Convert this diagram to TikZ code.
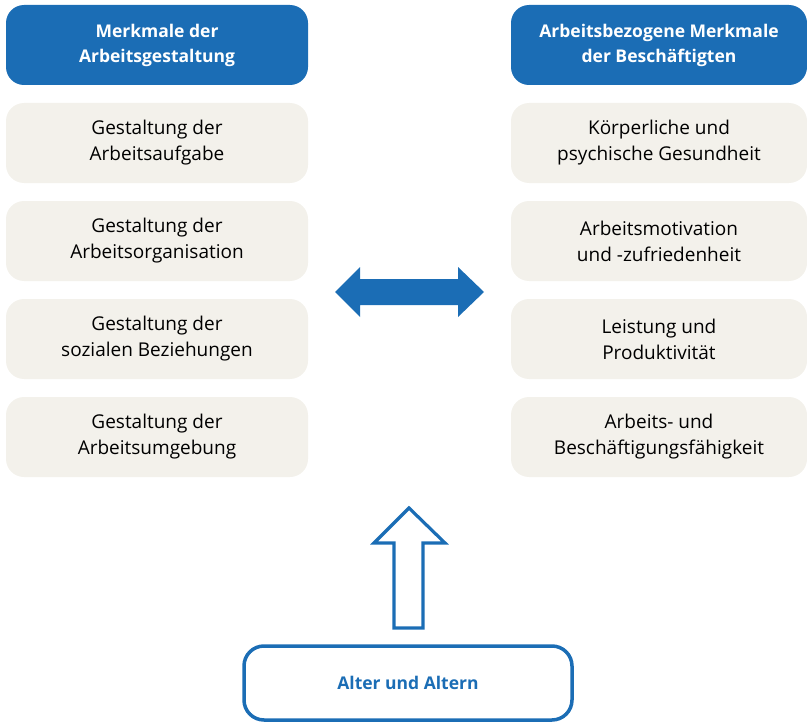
\documentclass[tikz,border=0pt]{standalone}
\usepackage{fontspec}
\setmainfont{Open Sans}
\definecolor{hdrblue}{HTML}{1B6DB5}
\definecolor{boxbeige}{HTML}{F3F1EB}
\begin{document}
\begin{tikzpicture}[x=1pt,y=-1pt,
  hdr/.style={fill=hdrblue, rounded corners=18pt, minimum height=80pt, text=white, font=\fontsize{17.5}{25}\selectfont\bfseries, align=center, inner sep=0pt},
  item/.style={fill=boxbeige, rounded corners=18pt, minimum height=80pt, text=black, font=\fontsize{19}{26}\selectfont, align=center, inner sep=0pt},
  lw/.style={minimum width=302pt},
  rw/.style={minimum width=296pt}]
\useasboundingbox (0,0) rectangle (807,725);
\node[hdr,lw] (h1) at (157,45) {Merkmale der\\Arbeitsgestaltung};
\node[hdr,rw] (h2) at (659,45) {Arbeitsbezogene Merkmale\\der Beschäftigten};
\node[item,lw] (l1) at (157,143) {Gestaltung der\\Arbeitsaufgabe};
\node[item,lw] (l2) at (157,241) {Gestaltung der\\Arbeitsorganisation};
\node[item,lw] (l3) at (157,339) {Gestaltung der\\sozialen Beziehungen};
\node[item,lw] (l4) at (157,437) {Gestaltung der\\Arbeitsumgebung};
\node[item,rw] (r1) at (659,143) {Körperliche und\\psychische Gesundheit};
\node[item,rw] (r2) at (659,241) {Arbeitsmotivation\\und -zufriedenheit};
\node[item,rw] (r3) at (659,339) {Leistung und\\Produktivität};
\node[item,rw] (r4) at (659,437) {Arbeits- und\\Beschäftigungsfähigkeit};
\node[draw=hdrblue, line width=3.5pt, rounded corners=20pt, minimum width=328pt, minimum height=74pt, text=hdrblue, font=\fontsize{17.5}{24}\selectfont\bfseries, inner sep=0pt] (age) at (408,683) {Alter und Altern};
% double arrow
\fill[hdrblue] (335,292) -- (360,267) -- (360,279) -- (458,279) -- (458,267) -- (484,292) -- (458,317) -- (458,305) -- (360,305) -- (360,317) -- cycle;
% hollow up arrow
\draw[hdrblue, line width=3.2pt, line join=miter] (409,508) -- (445,543) -- (423,543) -- (423,628) -- (394,628) -- (394,543) -- (374,543) -- cycle;
\end{tikzpicture}
\end{document}
